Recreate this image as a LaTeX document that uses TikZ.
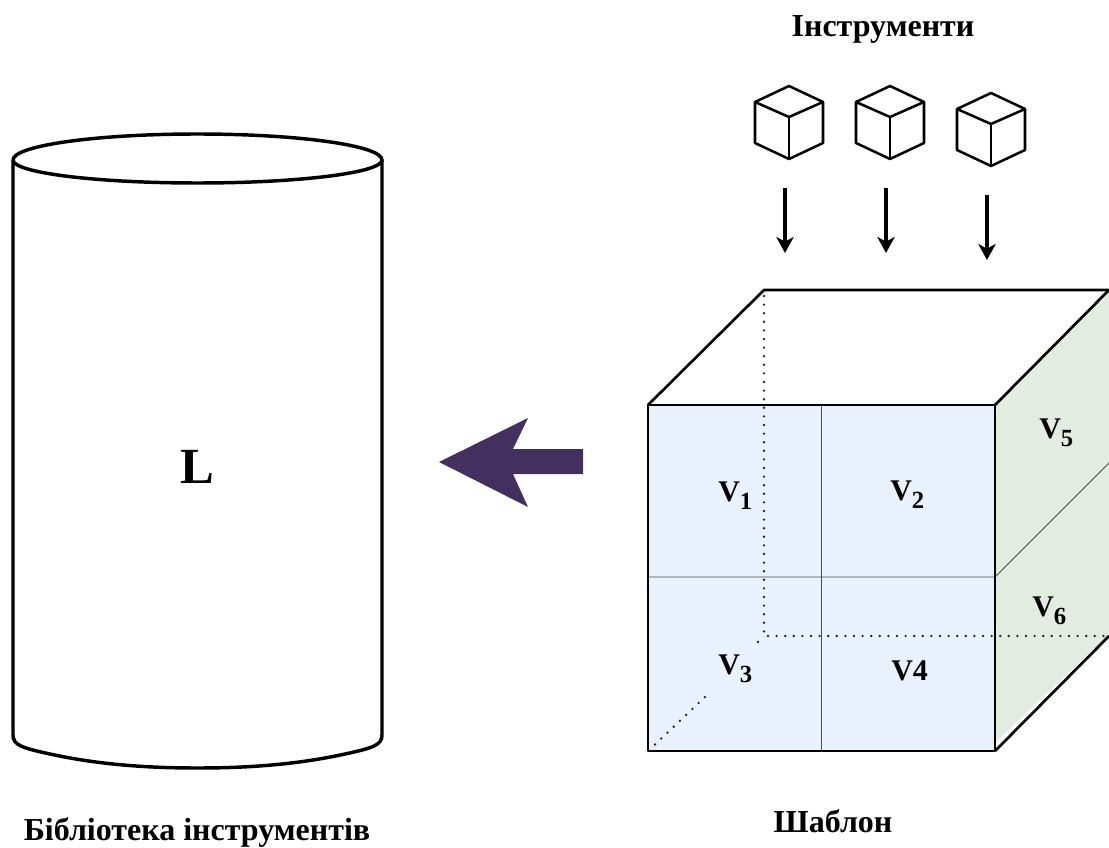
\documentclass[tikz,border=0pt]{standalone}
\usepackage{fontspec}
\setmainfont{Liberation Serif}
\definecolor{frontblue}{HTML}{E8F1FC}
\definecolor{sidegreen}{HTML}{E3ECE1}
\definecolor{bigarrow}{HTML}{43305F}
\usetikzlibrary{arrows.meta}
\tikzset{
  heavy/.style={draw=black,line width=2pt,line join=round},
  cylline/.style={draw=black,line width=2.6pt,line join=round},
  thin line/.style={draw=black!70,line width=0.7pt},
  dots/.style={draw=black!85,line width=2pt,line cap=round,dash pattern=on 0pt off 6.45pt},
  tool/.style={draw=black,line width=1.9pt,line join=round},
  drop/.style={draw=black,line width=2.4pt,-{Stealth[length=12pt,width=13pt,inset=3.5pt]}},
  title/.style={font=\bfseries\fontsize{24}{28}\selectfont,inner sep=0pt,anchor=base},
  cell/.style={font=\bfseries\fontsize{22.5}{26}\selectfont,inner sep=0pt,anchor=base west},
}
\newcommand{\vsub}[1]{V\raisebox{-6pt}{\fontsize{18.5}{20}\selectfont #1}}
\newcommand{\toolcube}[3]{%
  \draw[tool] (#1-34,#2-15+#3) -- (#1,#2-31+#3) -- (#1+34,#2-15+#3) -- (#1+34,#2+26+#3) -- (#1,#2+42+#3) -- (#1-34,#2+26+#3) -- cycle;
  \draw[tool] (#1-34,#2-15+#3) -- (#1,#2+#3) -- (#1+34,#2-15+#3);
  \draw[tool] (#1,#2+#3) -- (#1,#2+42+#3);
}
\begin{document}
\begin{tikzpicture}[x=0.75pt,y=-0.75pt]
\useasboundingbox (0,0) rectangle (1109,848);
\fill[white] (0,0) rectangle (1109,848);
% library cylinder
\coordinate (cylTL) at (13,160);
\coordinate (cylTR) at (382,160);
\draw[cylline] (cylTL) -- (13,735)
  .. controls (13,745) and (22,748) .. (50,754)
  .. controls (100,765) and (150,768) .. (197.5,768)
  .. controls (245,768) and (295,765) .. (345,754)
  .. controls (373,748) and (382,745) .. (382,735) -- (cylTR);
\draw[cylline] (cylTL) arc[start angle=180,end angle=360,x radius=184.5,y radius=26]
  arc[start angle=0,end angle=180,x radius=184.5,y radius=23];
\node[font=\bfseries\fontsize{38}{44}\selectfont,inner sep=0pt] (L) at (197,467) {L};
\node[title] (libtitle) at (197,840) {Бібліотека інструментів};
% big arrow
\fill[bigarrow] (439,462) -- (528,418) -- (513,449) -- (583,449) -- (583,474) -- (513,474) -- (528,507) -- cycle;
% template cube
\coordinate (fTL) at (648,405);
\coordinate (fTR) at (995,405);
\coordinate (fBR) at (995,751);
\coordinate (fBL) at (648,751);
\coordinate (bTL) at (764,290);
\coordinate (bTR) at (1109,290);
\coordinate (bBR) at (1109,636);
\coordinate (bBL) at (764,636);
\fill[frontblue] (fTL) -- (fTR) -- (fBR) -- (fBL) -- cycle;
\fill[sidegreen] (fTR) -- (bTR) -- (1109,634) -- (995,743) -- cycle;
\draw[thin line] (821.5,405) -- (821.5,751);
\draw[thin line] (648,577) -- (995,577) -- (1109,463);
\draw[dots] (764,296) -- (bBL) -- (1106,636);
\draw[dots] (758,642) -- (758,642.01);
\draw[dots] (655,744.5) -- (706,696);
\draw[heavy] (fTL) -- (fTR) -- (fBR) -- (fBL) -- cycle;
\draw[heavy] (fTL) -- (bTL) -- (bTR);
\draw[heavy] (fTR) -- (bTR);
\draw[heavy] (fBR) -- (bBR);
\node[cell] (v1) at (718,501) {\vsub{1}};
\node[cell] (v2) at (890,500) {\vsub{2}};
\node[cell] (v3) at (718,674) {\vsub{3}};
\node[cell] (v4) at (891,680) {V4};
\node[cell] (v5) at (1039,438) {\vsub{5}};
\node[cell] (v6) at (1032,616) {\vsub{6}};
\node[title] (tpl) at (833,832) {Шаблон};
% tools
\node[title] (tooltitle) at (883,37) {Інструменти};
\toolcube{789}{117}{0}
\toolcube{890}{117}{0}
\toolcube{991}{117}{7}
\coordinate (a1s) at (785,188); \coordinate (a1e) at (785,253);
\coordinate (a2s) at (886,188); \coordinate (a2e) at (886,253);
\coordinate (a3s) at (987,195); \coordinate (a3e) at (987,260);
\draw[drop] (a1s) -- (a1e);
\draw[drop] (a2s) -- (a2e);
\draw[drop] (a3s) -- (a3e);
\end{tikzpicture}
\end{document}
